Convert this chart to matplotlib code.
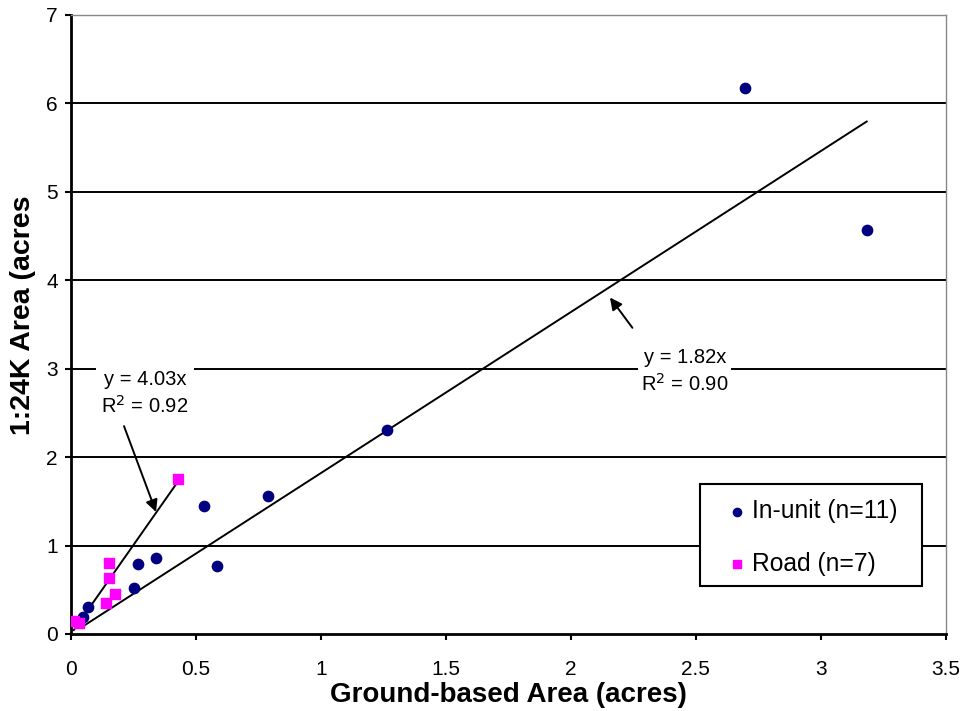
import matplotlib
matplotlib.use("Agg")
import matplotlib.pyplot as plt
from matplotlib.patches import Rectangle
import numpy as np

# In-unit data
inunit_x = [0.047, 0.067, 0.252, 0.267, 0.339, 0.531, 0.584, 0.787, 1.264, 2.696, 3.184]
inunit_y = [0.196, 0.30, 0.517, 0.79, 0.863, 1.447, 0.772, 1.564, 2.31, 6.17, 4.57]
# Road data
road_x = [0.011, 0.031, 0.139, 0.153, 0.153, 0.175, 0.427]
road_y = [0.150, 0.121, 0.354, 0.637, 0.806, 0.449, 1.753]

inunit_slope = 1.82
road_slope = 4.03

xticks = [0, 0.5, 1, 1.5, 2, 2.5, 3, 3.5]
xticklabels = ["0", "0.5", "1", "1.5", "2", "2.5", "3", "3.5"]
yticks = [0, 1, 2, 3, 4, 5, 6, 7]

plt.rcParams['font.family'] = ['Liberation Sans', 'DejaVu Sans']

fig = plt.figure(figsize=(9.64, 7.11), dpi=100)
ax = fig.add_axes([0.0737, 0.1083, 0.9073, 0.8707])

ax.set_xlim(0, 3.5)
ax.set_ylim(0, 7)

for yv in yticks[1:-1]:
    ax.axhline(yv, color='black', lw=1.4, zorder=1)

# trend lines
xi = np.array([min(inunit_x), max(inunit_x)])
ax.plot(xi, inunit_slope * xi, color='black', lw=1.4, zorder=2)
xr = np.array([min(road_x), max(road_x)])
ax.plot(xr, road_slope * xr, color='black', lw=1.4, zorder=2)

ax.scatter(inunit_x, inunit_y, s=55, marker='o', color='#000080', zorder=3,
           label='In-unit (n=11)')
ax.scatter(road_x, road_y, s=55, marker='s', color='#FF00FF', zorder=3,
           label='Road (n=7)')

# annotations
ax.annotate('', xy=(2.15, 3.83), xytext=(2.253, 3.437),
            arrowprops=dict(arrowstyle='-|>', color='black', lw=1.4,
                            mutation_scale=18), zorder=4)
ax.text(2.456, 2.97, 'y = 1.82x\nR$^2$ = 0.90', ha='center', va='center',
        fontsize=14.5, linespacing=1.33,
        bbox=dict(facecolor='white', edgecolor='none', pad=2), zorder=4)

ax.annotate('', xy=(0.344, 1.35), xytext=(0.208, 2.38),
            arrowprops=dict(arrowstyle='-|>', color='black', lw=1.4,
                            mutation_scale=18), zorder=4)
ax.text(0.296, 2.72, 'y = 4.03x\nR$^2$ = 0.92', ha='center', va='center',
        fontsize=14.5, linespacing=1.33,
        bbox=dict(facecolor='white', edgecolor='none', pad=4), zorder=4)

ax.set_xticks(xticks)
ax.set_xticklabels(xticklabels)
ax.set_yticks(yticks)
ax.tick_params(axis='both', labelsize=15, length=4.5, width=1.5, direction='out',
               colors='black')
ax.tick_params(axis='x', pad=14)
ax.tick_params(axis='y', pad=5)

for side in ['left', 'bottom']:
    ax.spines[side].set_linewidth(2)
for side in ['right', 'top']:
    ax.spines[side].set_color('#888888')
    ax.spines[side].set_linewidth(1)

ax.set_xlabel('Ground-based Area (acres)', fontsize=20, fontweight='bold')
ax.xaxis.set_label_coords(0.5, -0.0985)
ax.xaxis.label.set_va('center')
ax.set_ylabel('1:24K Area (acres', fontsize=20.5, fontweight='bold')
ax.yaxis.set_label_coords(-0.0545, 0.515)
ax.yaxis.label.set_va('center')

# legend box
bx0, bx1, by0, by1 = 0.7189, 0.9726, 0.0775, 0.2423
ax.add_patch(Rectangle((bx0, by0), bx1 - bx0, by1 - by0, transform=ax.transAxes,
                       facecolor='white', edgecolor='black', lw=1.5, zorder=5))
leg = ax.legend(loc='center', bbox_to_anchor=((bx0 + bx1) / 2, (by0 + by1) / 2 - 0.004),
                fontsize=17.7, frameon=False,
                handletextpad=0.1, handlelength=1.0,
                labelspacing=1.17, borderpad=0, markerscale=0.8,
                borderaxespad=0)
leg.set_zorder(6)

fig.savefig('out.png', dpi=100)
